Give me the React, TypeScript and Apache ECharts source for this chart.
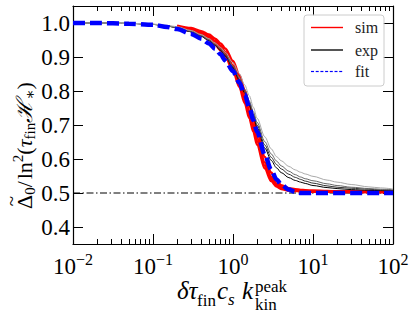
import React, { useEffect, useRef } from 'react';
import * as echarts from 'echarts';

// x positions (shared by all curves)
const xs = [0.01, 0.02, 0.05, 0.1, 0.15, 0.2, 0.3, 0.4, 0.5, 0.6, 0.7, 0.8, 1.0, 1.2, 1.4, 1.6, 1.8, 2.0, 2.5, 3, 3.5, 4, 5, 6, 7, 8, 10, 15, 20, 30, 50, 70, 100];

// simulation curves (red)
const simA = [null, null, null, null, null, 0.99, 0.982, 0.972, 0.96, 0.947, 0.932, 0.915, 0.875, 0.83, 0.785, 0.74, 0.70, 0.662, 0.59, 0.548, 0.527, 0.517, 0.51, 0.508, 0.507, 0.506, 0.505, 0.504, 0.504, 0.503, 0.503, 0.503, 0.503];
const simB = [null, null, null, null, null, 0.992, 0.985, 0.976, 0.966, 0.954, 0.94, 0.925, 0.888, 0.846, 0.802, 0.758, 0.718, 0.68, 0.606, 0.56, 0.535, 0.523, 0.514, 0.511, 0.509, 0.508, 0.507, 0.506, 0.505, 0.505, 0.504, 0.504, 0.504];
const simC = [null, null, null, null, null, 0.987, 0.977, 0.965, 0.951, 0.936, 0.92, 0.902, 0.86, 0.812, 0.765, 0.72, 0.68, 0.642, 0.572, 0.535, 0.519, 0.512, 0.507, 0.506, 0.505, 0.505, 0.504, 0.504, 0.503, 0.503, 0.503, 0.503, 0.503];
const simD = [null, null, null, null, null, 0.989, 0.98, 0.969, 0.956, 0.942, 0.926, 0.909, 0.868, 0.822, 0.776, 0.731, 0.69, 0.652, 0.58, 0.541, 0.523, 0.515, 0.509, 0.507, 0.506, 0.506, 0.505, 0.505, 0.504, 0.504, 0.504, 0.503, 0.503];

// analytic expectation curves (black to light grey)
const expA = [1.0, 1.0, 0.999, 0.996, 0.991, 0.986, 0.974, 0.961, 0.948, 0.934, 0.919, 0.903, 0.868, 0.831, 0.794, 0.758, 0.724, 0.692, 0.632, 0.596, 0.574, 0.56, 0.545, 0.537, 0.532, 0.528, 0.522, 0.516, 0.513, 0.51, 0.508, 0.507, 0.506];
const expB = [1.0, 1.0, 0.999, 0.996, 0.991, 0.986, 0.974, 0.962, 0.949, 0.935, 0.921, 0.905, 0.871, 0.835, 0.799, 0.764, 0.731, 0.70, 0.641, 0.605, 0.584, 0.571, 0.555, 0.546, 0.54, 0.535, 0.529, 0.521, 0.517, 0.514, 0.511, 0.509, 0.508];
const expC = [1.0, 1.0, 0.999, 0.996, 0.992, 0.987, 0.976, 0.964, 0.951, 0.938, 0.924, 0.909, 0.874, 0.84, 0.805, 0.771, 0.739, 0.708, 0.651, 0.615, 0.594, 0.58, 0.564, 0.554, 0.547, 0.542, 0.536, 0.527, 0.522, 0.517, 0.513, 0.511, 0.51];
const expD = [1.0, 1.0, 0.999, 0.997, 0.993, 0.989, 0.978, 0.966, 0.954, 0.941, 0.928, 0.914, 0.883, 0.851, 0.818, 0.786, 0.752, 0.72, 0.665, 0.63, 0.607, 0.595, 0.578, 0.568, 0.561, 0.556, 0.549, 0.538, 0.532, 0.525, 0.518, 0.515, 0.512];
const expColors = ['#000000', '#333333', '#666666', '#aaaaaa'];

// fit (blue dashed)
const fit = [1.0, 1.0, 0.998, 0.995, 0.988, 0.982, 0.968, 0.954, 0.94, 0.924, 0.908, 0.89, 0.858, 0.825, 0.79, 0.752, 0.714, 0.68, 0.612, 0.568, 0.54, 0.525, 0.51, 0.503, 0.5, 0.5, 0.5, 0.5, 0.5, 0.5, 0.5, 0.5, 0.5];

const refLevel = 0.5;
const xRange = [0.01, 100];
const yRange = [0.35, 1.05];
const xMajorTicks = [0.01, 0.1, 1, 10, 100];
const xMinorTicks = [0.02, 0.03, 0.04, 0.05, 0.06, 0.07, 0.08, 0.09, 0.2, 0.3, 0.4, 0.5, 0.6, 0.7, 0.8, 0.9, 2, 3, 4, 5, 6, 7, 8, 9, 20, 30, 40, 50, 60, 70, 80, 90];
const yTicks = [0.4, 0.5, 0.6, 0.7, 0.8, 0.9, 1.0];
const legendNames = ['sim', 'exp', 'fit'];

const FONT = '"Liberation Serif", "DejaVu Serif", serif';

function pairs(ys: (number | null)[]) {
  return xs.map((x, i) => [x, ys[i]]).filter((p) => p[1] !== null);
}

export default function App() {
  const ref = useRef<HTMLDivElement>(null);
  useEffect(() => {
    document.body.style.margin = '0';
    const chart = echarts.init(ref.current!, null, { renderer: 'svg' });

    const xBase = (pos: string, major: boolean, labels: boolean) => ({
      type: 'log',
      logBase: 10,
      min: xRange[0],
      max: xRange[1],
      position: pos,
      gridIndex: 0,
      axisLine: { show: major, lineStyle: { color: '#000', width: 1.2 } },
      axisTick: {
        show: true,
        inside: true,
        length: major ? 10 : 5,
        customValues: major ? xMajorTicks : xMinorTicks,
        lineStyle: { color: '#000', width: 1 },
      },
      axisLabel: labels
        ? {
            show: true,
            customValues: xMajorTicks,
            margin: 7,
            formatter: (v: number) => {
              const e = Math.round(Math.log10(v));
              const s = e < 0 ? '\u2212' + -e : String(e);
              return `{b|10}{s|${s}}`;
            },
            rich: {
              b: { fontSize: 23, fontFamily: FONT, color: '#000', lineHeight: 27, verticalAlign: 'bottom' },
              s: { fontSize: 16, fontFamily: FONT, color: '#000', lineHeight: 14, verticalAlign: 'top' },
            },
          }
        : { show: false },
      splitLine: { show: false },
      minorTick: { show: false },
    });

    const yBase = (pos: string, labels: boolean) => ({
      type: 'value',
      min: yRange[0],
      max: yRange[1],
      position: pos,
      axisLine: { show: true, lineStyle: { color: '#000', width: 1.2 } },
      axisTick: { show: true, inside: true, length: 10, customValues: yTicks, lineStyle: { color: '#000', width: 1 } },
      axisLabel: labels
        ? {
            show: true,
            customValues: yTicks,
            margin: 3,
            formatter: (v: number) => v.toFixed(1),
            fontSize: 23,
            fontFamily: FONT,
            color: '#000',
          }
        : { show: false },
      splitLine: { show: false },
    });

    const sims = [simA, simB, simC, simD];
    const exps = [expA, expB, expC, expD];

    const series: any[] = [];
    series.push({
      type: 'line',
      name: 'ref',
      data: [[xRange[0], refLevel], [xRange[1], refLevel]],
      showSymbol: false,
      symbol: 'none',
      lineStyle: { color: '#000', width: 1, type: [7, 2.5, 1.5, 2.5] },
      z: 1,
    });
    sims.forEach((s) =>
      series.push({
        type: 'line',
        name: 'sim',
        data: pairs(s),
        symbol: 'none',
        smooth: 0.3,
        smoothMonotone: 'x',
        lineStyle: { color: '#ff0000', width: 2.5 },
        z: 2,
      })
    );
    exps.forEach((s, i) =>
      series.push({
        type: 'line',
        name: 'exp',
        data: pairs(s),
        symbol: 'none',
        smooth: 0.3,
        smoothMonotone: 'x',
        lineStyle: { color: expColors[i], width: 1 },
        z: 3,
      })
    );
    series.push({
      type: 'line',
      name: 'fit',
      data: pairs(fit),
      symbol: 'none',
      smooth: 0.3,
      smoothMonotone: 'x',
      lineStyle: { color: '#0000ff', width: 4.5, type: [12, 5] },
      z: 4,
    });

    const T = 22;
    const S = 15;
    const titleRich = {
      n: { fontSize: T, fontFamily: FONT, color: '#000', lineHeight: 27, verticalAlign: 'middle' },
      i: { fontSize: T, fontFamily: FONT, fontStyle: 'italic', color: '#000', lineHeight: 27, verticalAlign: 'middle' },
      sub: { fontSize: S, fontFamily: FONT, color: '#000', lineHeight: 12, verticalAlign: 'bottom' },
      sup: { fontSize: S, fontFamily: FONT, color: '#000', lineHeight: 12, verticalAlign: 'top' },
      gap: { fontSize: 8, fontFamily: FONT, color: '#000', lineHeight: 12, verticalAlign: 'middle' },
    };

    const legendY = [27.5, 50, 71.5];
    const legendColors = ['#ff0000', '#555555', '#0000ff'];
    const legendDashes = [0, 0, 1];

    const legendSamples: any[] = legendNames.map((nm, i) =>
      legendDashes[i]
        ? {
            type: 'group',
            z: 101,
            children: [0, 1, 2, 3, 4, 5, 6].map((k) => ({
              type: 'rect',
              z: 101,
              shape: { x: 311 + k * 4.7, y: legendY[i] - 0.6, width: 3, height: 1.2 },
              style: { fill: legendColors[i] },
            })),
          }
        : {
            type: 'rect',
            z: 101,
            shape: { x: 311, y: legendY[i] - (i === 1 ? 1 : 0.7), width: 32, height: i === 1 ? 2 : 1.4 },
            style: { fill: legendColors[i] },
          }
    );

    chart.setOption({
      animation: false,
      grid: { left: 73, right: 22, top: 6, bottom: 75, outerBoundsMode: 'none' },
      xAxis: [xBase('bottom', true, true), xBase('bottom', false, false), xBase('top', true, false), xBase('top', false, false)],
      yAxis: [yBase('left', true), yBase('right', false)],
      series,
      graphic: [
        {
          type: 'rect',
          z: 100,
          shape: { x: 304, y: 15, width: 80, height: 71, r: 3 },
          style: { fill: 'rgba(255,255,255,0.8)', stroke: '#cccccc', lineWidth: 1 },
        },
        ...legendSamples,
        ...legendNames.map((nm, i) => ({
          type: 'text',
          z: 101,
          x: 355,
          y: legendY[i],
          style: { text: nm, fontSize: 16, fontFamily: FONT, fill: '#222', textAlign: 'left', textVerticalAlign: 'middle' },
        })),
        // y-axis title (rotated group; local +x runs up the page)
        {
          type: 'group',
          x: 32,
          y: 209,
          rotation: Math.PI / 2,
          z: 101,
          children: [
            {
              type: 'text',
              z: 101,
              x: 0,
              y: -8,
              style: {
                text: '{n|\u0394}{sub|0}{n|/}{gap| }{n|ln}{sup|2}{n|(}{i|\u03c4}{sub|fin}{i|\u210b}{sub|\u2217}{n|)}',
                rich: titleRich,
                textAlign: 'left',
                textVerticalAlign: 'middle',
              },
            },
            {
              type: 'text',
              z: 101,
              x: 8,
              y: -21,
              style: { text: '~', fontSize: 19, fontFamily: FONT, fill: '#000', textAlign: 'center', textVerticalAlign: 'middle' },
            },
          ],
        },
        // x-axis title pieces
        { type: 'text', z: 101, x: 177, y: 290, style: { text: '\u03b4\u03c4', fontSize: 25, fontStyle: 'italic', fontFamily: FONT, fill: '#000', textVerticalAlign: 'middle' } },
        { type: 'text', z: 101, x: 197, y: 300, style: { text: 'fin', fontSize: 17, fontFamily: FONT, fill: '#000', textVerticalAlign: 'middle' } },
        { type: 'text', z: 101, x: 217, y: 290, style: { text: 'c', fontSize: 25, fontStyle: 'italic', fontFamily: FONT, fill: '#000', textVerticalAlign: 'middle' } },
        { type: 'text', z: 101, x: 228, y: 299, style: { text: 's', fontSize: 17, fontStyle: 'italic', fontFamily: FONT, fill: '#000', textVerticalAlign: 'middle' } },
        { type: 'text', z: 101, x: 242, y: 290, style: { text: 'k', fontSize: 25, fontStyle: 'italic', fontFamily: FONT, fill: '#000', textVerticalAlign: 'middle' } },
        { type: 'text', z: 101, x: 255, y: 286, style: { text: 'peak', fontSize: 17, fontFamily: FONT, fill: '#000', textVerticalAlign: 'middle' } },
        { type: 'text', z: 101, x: 255, y: 304, style: { text: 'kin', fontSize: 17, fontFamily: FONT, fill: '#000', textVerticalAlign: 'middle' } },
      ],
    });
    return () => chart.dispose();
  }, []);
  return <div ref={ref} style={{ width: 415, height: 319 }} />;
}
